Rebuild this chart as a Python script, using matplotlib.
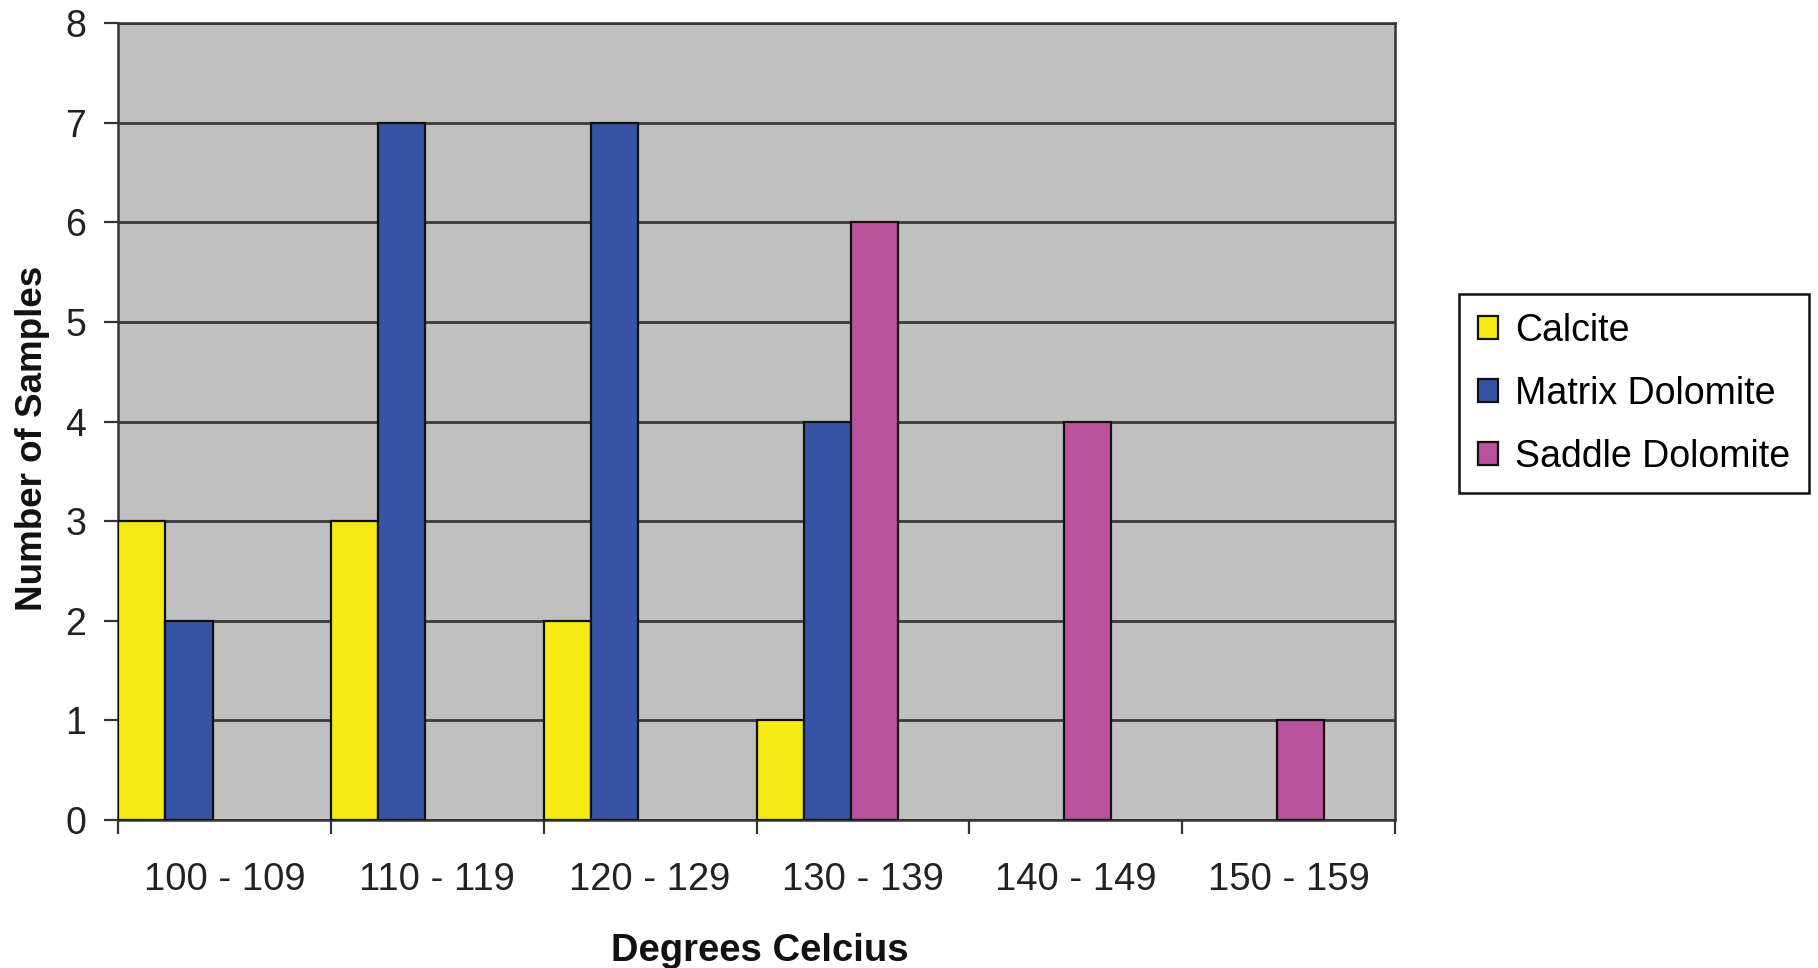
import matplotlib
matplotlib.use("Agg")
import matplotlib.pyplot as plt
from matplotlib.patches import Patch
import numpy as np

# Fluid inclusion homogenisation temperatures by cement phase
categories = ["100 - 109", "110 - 119", "120 - 129", "130 - 139", "140 - 149", "150 - 159"]
calcite = [3, 3, 2, 1, 0, 0]
matrix_dolomite = [2, 7, 7, 4, 0, 0]
saddle_dolomite = [0, 0, 0, 6, 4, 1]

series = [
    ("Calcite", calcite, "#F5EA14"),
    ("Matrix Dolomite", matrix_dolomite, "#3753A4"),
    ("Saddle Dolomite", saddle_dolomite, "#B8529D"),
]

plt.rcParams["font.family"] = ["Liberation Sans", "DejaVu Sans"]

fig = plt.figure(figsize=(18.18, 9.68), dpi=100)
ax = fig.add_axes([118 / 1818, 1 - 820 / 968, (1395 - 118) / 1818, (820 - 23) / 968])
ax.set_facecolor("#C0C0C0")

x = np.arange(len(categories))
bar_w = 2 / 9
handles = []
for k, (name, vals, col) in enumerate(series):
    h = ax.bar(x + k * bar_w, vals, width=bar_w, align="edge", color=col,
               edgecolor="#111111", linewidth=1.6, zorder=3)
    # empty bins draw nothing
    for rect, v in zip(h.patches, vals):
        if v == 0:
            rect.set_visible(False)
    handles.append(Patch(facecolor=col, edgecolor="#111111", linewidth=1.6, label=name))

ax.set_xlim(0, len(categories))
ax.set_ylim(0, 8)
ax.set_yticks(range(0, 9))
ax.yaxis.grid(True, color="#3a3a3a", linewidth=2.0, zorder=1)
ax.set_axisbelow(True)

# category boundaries carry tick marks; labels sit at category centres
ax.set_xticks(range(0, len(categories) + 1))
ax.set_xticklabels([])
ax.set_xticks(x + 0.5, minor=True)
ax.set_xticklabels(categories, minor=True)
ax.tick_params(axis="x", which="major", length=10, width=1.6, color="#333333", direction="out")
ax.tick_params(axis="x", which="minor", length=0, pad=30, labelsize=27.5, labelcolor="#222222")
ax.tick_params(axis="y", length=10, width=1.6, color="#333333", direction="out",
               pad=13, labelsize=27, labelcolor="#222222")

for side in ["left", "bottom", "right", "top"]:
    ax.spines[side].set_color("#333333")
    ax.spines[side].set_linewidth(1.8)

ax.set_xlabel("Degrees Celcius", fontsize=27.5, fontweight="bold", color="#111111")
ax.xaxis.set_label_coords((760 - 118) / 1277, (820 - 933) / 797)
ax.set_ylabel("Number of Samples", fontsize=26.5, fontweight="bold", color="#111111", va="center")
ax.yaxis.set_label_coords((33 - 118) / 1277, (820 - 438) / 797)

leg = fig.legend(handles=handles, loc="upper left",
                 bbox_to_anchor=(1459 / 1818, 1 - 294 / 968),
                 fontsize=27, frameon=True, fancybox=False, framealpha=1,
                 handlelength=0.55, handleheight=0.55, handletextpad=0.45,
                 labelspacing=0.72, borderpad=0.5, borderaxespad=0)
leg.get_frame().set_edgecolor("#111111")
leg.get_frame().set_linewidth(1.8)

fig.savefig("out.png", dpi=100, facecolor="white")
